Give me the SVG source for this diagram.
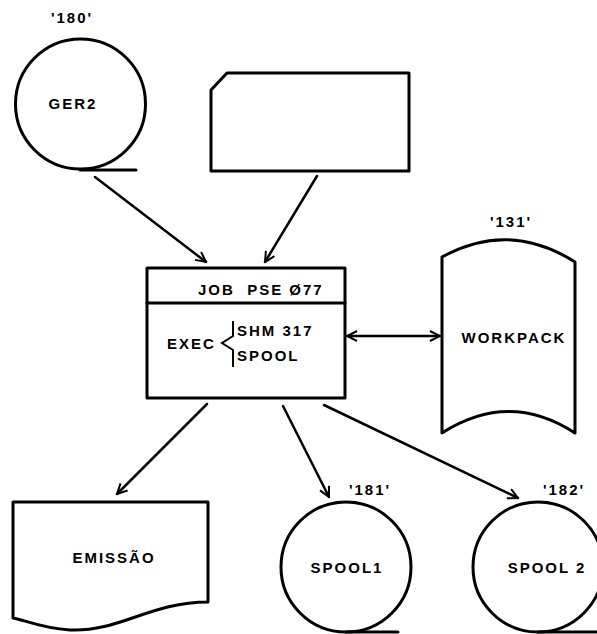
<svg xmlns="http://www.w3.org/2000/svg" width="597" height="634" viewBox="0 0 597 634">
<defs>
<style>
.s{fill:none;stroke:#000;stroke-width:3;stroke-linejoin:round;stroke-linecap:round}
.c{fill:none;stroke:#000;stroke-width:2.5;stroke-linecap:round}
.t{font-family:"Liberation Sans",Arial,sans-serif;font-weight:bold;font-size:15px;fill:#000;letter-spacing:2px}
</style>
<marker id="a" viewBox="0 0 12 12" refX="11" refY="6" markerWidth="12" markerHeight="12" markerUnits="userSpaceOnUse" orient="auto-start-reverse">
<path d="M1,1 L11,6 L1,11" fill="none" stroke="#000" stroke-width="2"/>
</marker>
</defs>
<rect width="597" height="634" fill="#fff"/>
<g id="ger2">
<circle cx="80.5" cy="104" r="65" class="s"/>
<line x1="80" y1="170" x2="136" y2="170" class="s"/>
<text x="72" y="23" class="t" text-anchor="middle">'180'</text>
<text x="73" y="109" class="t" text-anchor="middle">GER2</text>
</g>
<g id="card">
<path d="M227,73 L409,73 L409,171 L211,171 L211,90 Z" class="s"/>
</g>
<g id="job">
<rect x="147" y="268" width="198" height="130" class="s"/>
<line x1="147" y1="303" x2="345" y2="303" class="s"/>
<text x="198" y="295" class="t" xml:space="preserve">JOB  PSE Ø77</text>
<text x="167" y="349" class="t">EXEC</text>
<path d="M233,321 L233,336 L222,343 L233,350 L233,367" fill="none" stroke="#000" stroke-width="2"/>
<text x="237" y="336" class="t">SHM 317</text>
<text x="237" y="361" class="t">SPOOL</text>
</g>
<g id="workpack">
<path d="M442,257 Q509,220 575,262 L575,433 Q509,390 442,433 Z" class="s"/>
<text x="511" y="227" class="t" text-anchor="middle">'131'</text>
<text x="514" y="343" class="t" text-anchor="middle">WORKPACK</text>
</g>
<g id="emissao">
<path d="M13,502 L208,502 L208,602 C150,602 120,632 70,630 C40,628 25,620 13,618 Z" class="s"/>
<text x="114" y="563" class="t" text-anchor="middle">EMISSÃO</text>
</g>
<g id="spool1">
<circle cx="346" cy="567" r="65" class="s"/>
<line x1="346" y1="632" x2="398" y2="632" class="s"/>
<text x="370" y="495" class="t" text-anchor="middle">'181'</text>
<text x="347" y="573" class="t" text-anchor="middle">SPOOL1</text>
</g>
<g id="spool2">
<circle cx="538" cy="567" r="65" class="s"/>
<line x1="538" y1="632" x2="597" y2="632" class="s"/>
<text x="564" y="495" class="t" text-anchor="middle">'182'</text>
<text x="547" y="573" class="t" text-anchor="middle">SPOOL 2</text>
</g>
<g id="connectors">
<line x1="95" y1="177" x2="206" y2="262" class="c" marker-end="url(#a)"/>
<line x1="317" y1="176" x2="265" y2="262" class="c" marker-end="url(#a)"/>
<line x1="347" y1="336" x2="440" y2="336" class="c" stroke-width="1.8" marker-start="url(#a)" marker-end="url(#a)"/>
<line x1="207" y1="404" x2="117" y2="494" class="c" marker-end="url(#a)"/>
<line x1="283" y1="406" x2="329" y2="497" class="c" marker-end="url(#a)"/>
<line x1="324" y1="405" x2="518" y2="498" class="c" marker-end="url(#a)"/>
</g>
</svg>
